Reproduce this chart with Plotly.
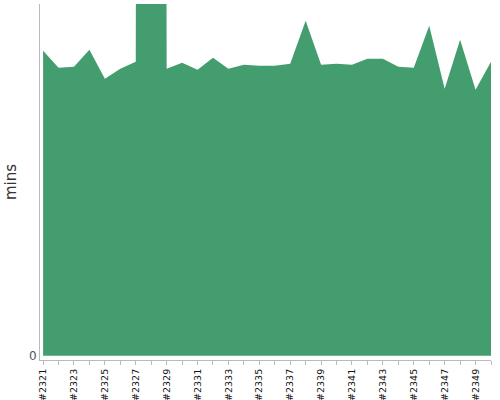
import plotly.graph_objects as go

builds = ["#%d" % n for n in range(2321, 2351)]
mins = [30.5, 28.8, 28.9, 30.6, 27.7, 28.7, 29.4, 900.0, 28.7, 29.3,
        28.6, 29.8, 28.7, 29.1, 29.0, 29.0, 29.2, 33.5, 29.1, 29.2,
        29.1, 29.7, 29.7, 28.9, 28.8, 33.0, 26.7, 31.6, 26.6, 29.4]
tick_text = [b if i % 2 == 0 else "" for i, b in enumerate(builds)]

fig = go.Figure(go.Scatter(
    x=builds, y=mins, mode="lines", fill="tozeroy",
    line=dict(width=0, color="#449D6E"), fillcolor="#449D6E",
    hoverinfo="x+y",
))

fig.update_layout(
    width=500, height=400,
    margin=dict(l=40, r=9, t=4, b=40),
    plot_bgcolor="white", paper_bgcolor="white",
    showlegend=False,
    font=dict(family="DejaVu Sans", color="#333"),
    xaxis=dict(
        type="category", range=[-0.2, 29], tickmode="array",
        tickvals=builds, ticktext=tick_text, tickangle=-90,
        ticks="outside", ticklen=4, tickcolor="#bbb",
        showline=True, linecolor="#bbb", showgrid=False, zeroline=False,
        tickfont=dict(size=9.5, color="#111"), automargin=False,
    ),
    yaxis=dict(
        range=[-0.43, 35.17], tickmode="array", tickvals=[0], ticktext=["0"],
        showline=True, linecolor="#bbb", showgrid=False, zeroline=False,
        tickfont=dict(size=12, color="#555"), automargin=False,
        title=dict(text="mins", font=dict(size=15, color="#333"), standoff=8),
    ),
)

fig.write_html(
    "out.html",
    config={"displayModeBar": False},
    post_script="document.body.style.margin='0';document.body.style.overflow='hidden';",
)
